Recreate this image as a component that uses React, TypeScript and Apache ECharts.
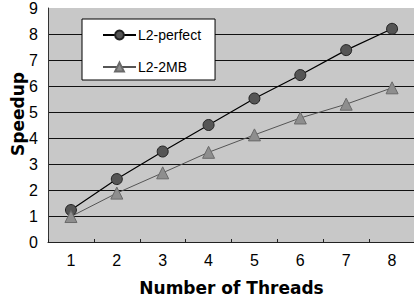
import React, { useEffect, useRef } from "react";
import * as echarts from "echarts";

const categories = ["1", "2", "3", "4", "5", "6", "7", "8"];
const perfectValues = [1.23, 2.42, 3.48, 4.5, 5.52, 6.42, 7.38, 8.2];
const mb2Values = [0.98, 1.88, 2.66, 3.45, 4.12, 4.77, 5.3, 5.93];
const yTicks = { min: 0, max: 9, interval: 1 };

export default function App() {
  const ref = useRef<HTMLDivElement>(null);
  useEffect(() => {
    if (!ref.current) return;
    const chart = echarts.init(ref.current, null, { renderer: "svg" });
    const font = "Liberation Sans, Arial, sans-serif";
    const nameFont = "DejaVu Sans, Verdana, sans-serif";
    const gridColors = ["#111", "#111", "#111", "#111", "#111", "#111", "#111", "#111", "#111", "rgba(0,0,0,0)"];
    chart.setOption({
      animation: false,
      backgroundColor: "#ffffff",
      grid: {
        left: 48,
        right: -1,
        top: 8,
        bottom: 58,
        show: true,
        backgroundColor: "#c8c8c8",
        borderWidth: 0,
        containLabel: false,
        outerBoundsMode: "none",
      },
      legend: {
        orient: "vertical",
        left: 82,
        top: 19,
        width: 142,
        backgroundColor: "#ffffff",
        borderColor: "#000000",
        borderWidth: 1,
        padding: [9, 14, 6, 20],
        itemGap: 18,
        itemWidth: 33,
        itemHeight: 11,
        textStyle: { fontFamily: font, fontSize: 14, color: "#000", padding: [0, 0, 0, -3] },
        data: ["L2-perfect", "L2-2MB"],
      },
      xAxis: {
        type: "category",
        data: categories,
        boundaryGap: true,
        name: "Number of Threads",
        nameLocation: "middle",
        nameGap: 37,
        nameMoveOverlap: false,
        nameTextStyle: { fontFamily: nameFont, fontSize: 17, fontWeight: "bold", color: "#000" },
        axisLine: { show: true, lineStyle: { color: "#222", width: 1 } },
        axisTick: { show: true, inside: true, length: 3, lineStyle: { color: "#222" } },
        axisLabel: { fontFamily: font, fontSize: 16, color: "#000", margin: 10 },
        splitLine: { show: false },
      },
      yAxis: {
        type: "value",
        min: yTicks.min,
        max: yTicks.max,
        interval: yTicks.interval,
        name: "Speedup",
        nameLocation: "middle",
        nameGap: 22,
        nameMoveOverlap: false,
        nameTextStyle: {
          fontFamily: nameFont,
          fontSize: 17,
          fontWeight: "bold",
          color: "#000",
          padding: [0, 0, 0, 22],
        },
        axisLine: { show: true, lineStyle: { color: "#333", width: 1 } },
        axisTick: { show: false },
        axisLabel: { fontFamily: font, fontSize: 16, color: "#000", margin: 10 },
        splitLine: { show: true, lineStyle: { color: gridColors, width: 1 } },
      },
      series: [
        {
          name: "L2-perfect",
          type: "line",
          data: perfectValues,
          symbol: "circle",
          symbolSize: 11,
          lineStyle: { color: "#000", width: 1.2 },
          itemStyle: { color: "#555555", borderColor: "#222", borderWidth: 1 },
        },
        {
          name: "L2-2MB",
          type: "line",
          data: mb2Values,
          symbol: "triangle",
          symbolSize: 12,
          lineStyle: { color: "#555", width: 1 },
          itemStyle: { color: "#8e8e8e", borderColor: "#6a6a6a", borderWidth: 1 },
        },
      ],
    });
    return () => chart.dispose();
  }, []);
  return (
    <div
      ref={ref}
      style={{ width: 414, height: 300, position: "absolute", left: 0, top: 0 }}
    />
  );
}
